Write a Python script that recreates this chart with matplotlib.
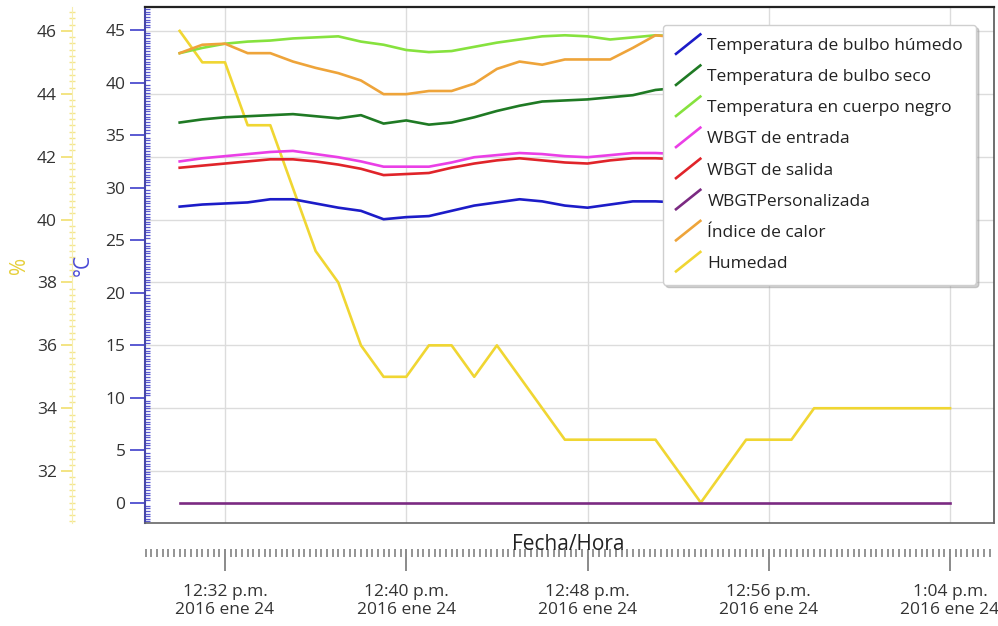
import datetime as dt

import matplotlib
matplotlib.use("Agg")
import matplotlib.pyplot as plt
import matplotlib.dates as mdates
from matplotlib.ticker import MultipleLocator, FixedLocator, FuncFormatter
from matplotlib.legend_handler import HandlerBase
from matplotlib.lines import Line2D

plt.rcParams['font.family'] = ['Open Sans', 'DejaVu Sans']

# one reading per minute, 12:30 p.m. to 1:04 p.m.
inicio = dt.datetime(2016, 1, 24, 12, 30)
minutos = list(range(35))
horas = [inicio + dt.timedelta(minutes=m) for m in minutos]

bulbo_humedo = [28.2, 28.4, 28.5, 28.6, 28.9, 28.9, 28.5, 28.1, 27.8, 27.0,
                27.2, 27.3, 27.8, 28.3, 28.6, 28.9, 28.7, 28.3, 28.1, 28.4,
                28.7, 28.7, 28.6, 28.8, 29.0, 29.1, 29.0, 28.9, 29.1, 29.3,
                29.4, 29.3, 29.5, 29.6, 29.6]
bulbo_seco = [36.2, 36.5, 36.7, 36.8, 36.9, 37.0, 36.8, 36.6, 36.9, 36.1,
              36.4, 36.0, 36.2, 36.7, 37.3, 37.8, 38.2, 38.3, 38.4, 38.6,
              38.8, 39.3, 39.5, 39.7, 39.9, 40.0, 40.1, 40.0, 40.2, 40.3,
              40.4, 40.5, 40.6, 40.6, 40.7]
cuerpo_negro = [42.8, 43.3, 43.7, 43.9, 44.0, 44.2, 44.3, 44.4, 43.9, 43.6,
                43.1, 42.9, 43.0, 43.4, 43.8, 44.1, 44.4, 44.5, 44.4, 44.1,
                44.3, 44.5, 44.4, 44.3, 44.2, 44.3, 44.4, 44.3, 44.2, 44.3,
                44.4, 44.3, 44.2, 44.3, 44.3]
wbgt_entrada = [32.5, 32.8, 33.0, 33.2, 33.4, 33.5, 33.2, 32.9, 32.5, 32.0,
                32.0, 32.0, 32.4, 32.9, 33.1, 33.3, 33.2, 33.0, 32.9, 33.1,
                33.3, 33.3, 33.2, 33.3, 33.5, 33.6, 33.5, 33.4, 33.6, 33.7,
                33.8, 33.7, 33.9, 34.0, 34.0]
wbgt_salida = [31.9, 32.1, 32.3, 32.5, 32.7, 32.7, 32.5, 32.2, 31.8, 31.2,
               31.3, 31.4, 31.9, 32.3, 32.6, 32.8, 32.6, 32.4, 32.3, 32.6,
               32.8, 32.8, 32.7, 32.8, 33.0, 33.1, 33.0, 32.9, 33.1, 33.2,
               33.3, 33.2, 33.4, 33.5, 33.5]
wbgt_personalizada = [0.0] * 35
indice_calor = [42.8, 43.6, 43.7, 42.8, 42.8, 42.0, 41.4, 40.9, 40.2, 38.9,
                38.9, 39.2, 39.2, 39.9, 41.3, 42.0, 41.7, 42.2, 42.2, 42.2,
                43.3, 44.5, 44.3, 44.1, 44.2, 44.3, 44.1, 44.2, 44.4, 44.3,
                44.2, 44.3, 44.4, 44.3, 44.4]
humedad = [46, 45, 45, 43, 43, 41, 39, 38, 36, 35,
           35, 36, 36, 35, 36, 35, 34, 33, 33, 33,
           33, 33, 32, 31, 32, 33, 33, 33, 34, 34,
           34, 34, 34, 34, 34]

series_temp = [
    ('Temperatura de bulbo húmedo', bulbo_humedo, '#1c1cc8'),
    ('Temperatura de bulbo seco', bulbo_seco, '#1f7a24'),
    ('Temperatura en cuerpo negro', cuerpo_negro, '#86e23e'),
    ('WBGT de entrada', wbgt_entrada, '#ea3fe6'),
    ('WBGT de salida', wbgt_salida, '#e0242a'),
    ('WBGTPersonalizada', wbgt_personalizada, '#7b2a82'),
    ('Índice de calor', indice_calor, '#eea43a'),
]
serie_humedad = ('Humedad', humedad, '#f0d632')

marcas_hora = [dt.datetime(2016, 1, 24, 12, 32), dt.datetime(2016, 1, 24, 12, 40),
               dt.datetime(2016, 1, 24, 12, 48), dt.datetime(2016, 1, 24, 12, 56),
               dt.datetime(2016, 1, 24, 13, 4)]
meses = ['ene', 'feb', 'mar', 'abr', 'may', 'jun',
         'jul', 'ago', 'sep', 'oct', 'nov', 'dic']

FS = 12.5


def etiqueta_hora(x, pos):
    d = mdates.num2date(x)
    h = d.hour % 12 or 12
    sufijo = 'p.m.' if d.hour >= 12 else 'a.m.'
    return f"{h}:{d.minute:02d} {sufijo}\n{d.year} {meses[d.month - 1]} {d.day}"


class HandlerSlant(HandlerBase):
    # legend key drawn as a short rising stroke
    def create_artists(self, legend, orig_handle, xdescent, ydescent,
                       width, height, fontsize, trans):
        x0, y0 = -xdescent, -ydescent
        line = Line2D([x0, x0 + width], [y0 - 0.3 * height, y0 + 1.3 * height])
        self.update_prop(line, orig_handle, legend)
        line.set_transform(trans)
        return [line]


fig = plt.figure(figsize=(9.98, 6.26), dpi=100)
ax_h = fig.add_axes([0.1453, 0.1645, 0.8507, 0.8243])
ax_t = ax_h.twinx()

# humidity axis (%) sits further left, carries the grid
lh, = ax_h.plot(horas, serie_humedad[1], color=serie_humedad[2], lw=1.9,
                solid_joinstyle='round', label=serie_humedad[0])
ax_h.set_ylim(30.35, 46.76)
ax_h.yaxis.set_major_locator(MultipleLocator(2))
ax_h.yaxis.set_minor_locator(MultipleLocator(0.2))
ax_h.spines['left'].set_position(('outward', 73 * 0.72))
ax_h.spines['left'].set_color('#f7eeb0')
for s in ('right', 'top', 'bottom'):
    ax_h.spines[s].set_visible(False)
ax_h.tick_params(axis='y', which='major', length=8, width=1.3, color='#f2e27a',
                 labelsize=FS, labelcolor='#333333', pad=3)
ax_h.tick_params(axis='y', which='minor', length=5, width=1, color='#f4e68c',
                 direction='inout')
ax_h.set_ylabel('%', color='#e6cf3a', fontsize=15)
ax_h.yaxis.set_label_coords(-0.1357, 0.5)

ax_h.set_xlim(inicio - dt.timedelta(minutes=1.53), marcas_hora[-1] + dt.timedelta(minutes=1.94))
ax_h.xaxis.set_major_locator(FixedLocator(mdates.date2num(marcas_hora)))
ax_h.tick_params(axis='x', length=0, labelbottom=False)
ax_h.grid(True, which='major', color='#dcdcdc', lw=1)
ax_h.set_axisbelow(True)

# temperature axis (°C)
lineas = []
for nombre, valores, color in series_temp:
    ln, = ax_t.plot(horas, valores, color=color, lw=1.9,
                    solid_joinstyle='round', label=nombre)
    lineas.append(ln)
lineas.append(lh)

ax_t.set_ylim(-1.9, 47.19)
ax_t.yaxis.tick_left()
ax_t.yaxis.set_label_position('left')
ax_t.yaxis.set_major_locator(MultipleLocator(5))
ax_t.yaxis.set_minor_locator(MultipleLocator(0.25))
ax_t.tick_params(axis='y', which='major', length=11, width=1.4, color='#5a5ad2',
                 labelsize=FS, labelcolor='#333333', pad=3)
ax_t.tick_params(axis='y', which='minor', length=3.5, width=0.9, color='#5a5ad2',
                 direction='in')
ax_t.spines['left'].set_color('#4646a8')
ax_t.spines['left'].set_linewidth(1.5)
ax_t.spines['top'].set_color('#222222')
ax_t.spines['top'].set_linewidth(1.6)
ax_t.spines['right'].set_color('#555555')
ax_t.spines['right'].set_linewidth(1.2)
ax_t.spines['bottom'].set_color('#666666')
ax_t.spines['bottom'].set_linewidth(1.2)
ax_t.set_ylabel('°C', color='#4a4ad6', fontsize=15)
ax_t.yaxis.set_label_coords(-0.060, 0.5)

# time scale drawn below the plot frame
sec = ax_h.secondary_xaxis(-0.0504)
sec.spines['bottom'].set_visible(False)
sec.xaxis.set_major_locator(FixedLocator(mdates.date2num(marcas_hora)))
sec.xaxis.set_major_formatter(FuncFormatter(etiqueta_hora))
sec.xaxis.set_minor_locator(mdates.SecondLocator(bysecond=[0, 15, 30, 45]))
sec.tick_params(which='major', length=16, width=1.2, color='#777777',
                labelsize=FS, labelcolor='#333333', pad=9)
sec.tick_params(which='minor', length=6, width=1.1, color='#777777')
for t in sec.get_xticklabels():
    t.set_linespacing(1.15)

fig.text(0.5698, 1 - 545 / 626, 'Fecha/Hora', ha='center', va='center',
         fontsize=15, color='#222222')

leg = fig.legend(handles=lineas, loc='upper left',
                 bbox_to_anchor=(663 / 998, 1 - 25 / 626), bbox_transform=fig.transFigure,
                 borderaxespad=0, fontsize=FS, frameon=True, fancybox=True,
                 shadow={'color': '#999999', 'alpha': 0.45},
                 handler_map={Line2D: HandlerSlant()},
                 handlelength=1.4, handletextpad=0.4, borderpad=0.75,
                 labelspacing=0.86)
leg.get_frame().set_edgecolor('#cfcfcf')
leg.get_frame().set_linewidth(1.0)
for t in leg.get_texts():
    t.set_color('#222222')

fig.savefig('out.png', dpi=100)
